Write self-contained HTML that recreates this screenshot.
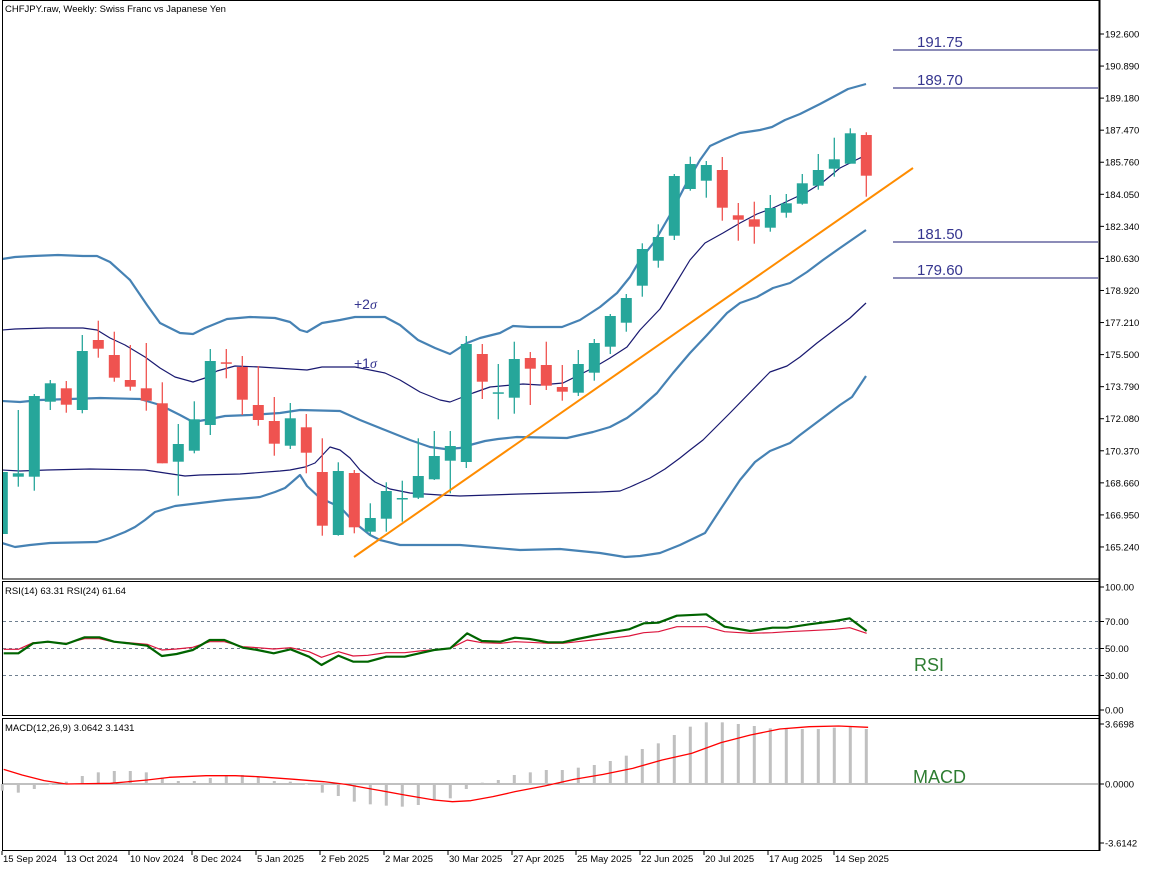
<!DOCTYPE html>
<html><head><meta charset="utf-8"><style>
html,body{margin:0;padding:0;background:#fff;}
svg{display:block;font-family:"Liberation Sans",sans-serif;}
</style></head><body>
<svg id="s" width="1152" height="870" xmlns="http://www.w3.org/2000/svg">
<rect width="1152" height="870" fill="#fff"/>
<g id="g"></g>
</svg>
<script>
const g=document.getElementById('g');let h='';
const cx=i=>2.3+16*i;
// candles: [open,close,high,low] in pixel y; color by open>close (pixel) => green
const C=[[534,472,469,536],[476.7,473.3,410,486.7],[476.7,396,394,490.7],[401.7,383.3,380,410],[388.3,404.7,381,412.7],[410,351,335,413.3],[340,348.7,320.7,357.7],[355,377.7,331.7,381.7],[380,386.7,345,390.7],[388.3,400.7,343,410.7],[403.3,463.3,382.3,463.3],[461.7,444,424,495.7],[450.7,419.3,401.3,453.3],[425,361,349,435],[362.3,363.7,349,378.3],[367,399.7,356,415],[405,420,366,425.7],[421,443.7,397,455.7],[445.7,418.3,403,449],[427.3,452.7,414,473.3],[472,525.7,438.3,535.7],[535,471,462.3,535.7],[473,527.3,470,533.3],[531.7,518,503.3,535.7],[518.7,491,482.3,531.7],[499.3,498,480.7,521.7],[497.7,476,438.3,499],[479.3,456,431,480],[460.7,446,431,493.3],[462,344,336,468],[354,381.7,344,399],[393.7,392.3,364,419.3],[397.7,359,341.7,413.7],[358,368.7,352,405],[365,385.7,341.7,390],[387,391.7,365,400.7],[392.7,364,350,396],[372.7,343,339,380.7],[346.7,316,314,354],[322.7,298,294,331.7],[285.7,249,243.3,296.7],[260.7,237,224.3,267.7],[235.7,176,174,240],[189,164,156.7,190.7],[180.7,165,161,197.7],[170,207.7,157,220.7],[215.3,219.7,203,240.7],[219.3,226.7,201.7,243.7],[227.7,208,195,231.7],[212.7,203.3,194,217.7],[203.7,183.3,174,204.7],[185.7,170,154,189.7],[168.7,159.3,137.7,176.7],[163.7,133.3,128.3,163.7],[135,175.7,132.3,196.7]];
const pl=(pts,col,w,extra)=>`<polyline fill="none" stroke="${col}" stroke-width="${w}" stroke-linejoin="round" ${extra||''} points="${pts.map(p=>p.join(',')).join(' ')}"/>`;
h+='<defs><clipPath id="cm"><rect x="3" y="3" width="1096" height="575"/></clipPath></defs><g clip-path="url(#cm)">';
// bands
const up=[[2,259],[15,257],[33,256],[58,255],[83,256],[97,256],[110,262],[130,280],[147,305],[160,323],[180,333],[193,334],[205,328],[227,319],[250,317],[275,318],[290,322],[300,330],[307,332],[322,323],[340,320],[355,317],[385,317],[400,325],[418,340],[435,348],[450,354],[467,343],[480,338],[500,333],[513,326],[530,327],[562,327],[580,320],[600,307],[617,293],[630,277],[640,260],[655,241],[670,215],[685,186],[700,160],[710,146],[725,139],[740,133],[760,130],[772,127],[785,120],[800,114],[820,104],[835,96],[848,89],[866,84]];
const p1=[[2,330],[15,329],[47,328],[83,328],[97,330],[110,338],[125,345],[145,357],[160,368],[175,377],[193,382],[205,378],[217,371],[235,366],[260,367],[307,370],[322,367],[355,367],[385,373],[400,380],[420,392],[440,400],[450,402],[473,393],[490,387],[523,384],[540,385],[563,383],[593,368],[610,358],[627,347],[640,330],[660,309],[673,288],[690,260],[705,243],[723,233],[740,223],[757,214],[773,208],[790,200],[807,192],[823,182],[840,168],[860,158],[866,156]];
const md=[[2,401],[20,402],[40,400],[100,398],[140,399],[160,405],[180,415],[193,422],[205,420],[225,416],[250,415],[280,413],[300,410],[340,411],[360,420],[385,430],[410,440],[430,447],[445,449],[460,448],[470,445],[485,441],[498,439],[517,437],[567,438],[593,432],[610,427],[627,418],[640,408],[657,393],[673,373],[690,353],[707,335],[727,313],[740,303],[757,297],[773,288],[790,283],[807,272],[823,260],[840,248],[866,230]];
const m1=[[2,470],[20,471],[47,470],[90,469],[145,470],[185,476],[200,475],[240,474],[280,471],[290,470],[305,467],[315,463],[330,447],[340,450],[350,458],[360,470],[375,482],[390,489],[410,493],[440,495],[460,496],[520,494],[600,492],[620,491],[630,487],[650,478],[665,469],[680,458],[690,450],[703,440],[730,413],[770,372],[787,366],[800,357],[817,343],[850,318],[866,303]];
const lo=[[2,543],[15,547],[30,545],[50,543],[97,542],[110,538],[125,532],[135,527],[145,520],[155,512],[175,506],[200,503],[225,500],[250,498],[260,497],[275,492],[285,488],[292,482],[300,475],[307,486],[320,498],[340,507],[355,523],[370,535],[380,540],[400,545],[430,545],[460,545],[520,550],[560,549],[600,553],[625,557],[640,556],[660,553],[680,545],[705,533],[720,510],[740,480],[755,462],[770,451],[790,443],[800,435],[820,420],[840,405],[852,397],[866,376]];
h+=pl(up,'#4682b4',2.2)+pl(md,'#4682b4',2.2)+pl(lo,'#4682b4',2.2)+pl(p1,'#191970',1.2)+pl(m1,'#191970',1.2);
// candles
C.forEach((c,i)=>{const x=cx(i);const gr=c[0]>=c[1];const col=gr?'#26a69a':'#ef5350';
const t=Math.min(c[0],c[1]),b=Math.max(c[0],c[1]);
h+=`<line x1="${x}" x2="${x}" y1="${c[2]}" y2="${c[3]}" stroke="${col}" stroke-width="1.3"/>`;
h+=`<rect x="${x-5.5}" y="${t}" width="11" height="${Math.max(b-t,1.5)}" fill="${col}"/>`;});
h+='<line x1="354" y1="557" x2="913" y2="168" stroke="#ff8c00" stroke-width="2"/>';
h+='</g>';
// levels
[[50,'191.75'],[88,'189.70'],[242,'181.50'],[278,'179.60']].forEach(([y,t])=>{h+=`<line x1="893" x2="1098" y1="${y}" y2="${y}" stroke="#191970" stroke-width="1"/><text x="917" y="${y-3}" font-size="15" fill="#35358f">${t}</text>`;});
h+='<text x="354" y="309" font-size="14" fill="#35358f">+2<tspan font-style="italic" font-family="Liberation Serif,serif">σ</tspan></text>';
h+='<text x="354" y="368" font-size="14" fill="#35358f">+1<tspan font-style="italic" font-family="Liberation Serif,serif">σ</tspan></text>';
h+='<text x="5" y="12" font-size="9.5" fill="#000">CHFJPY.raw, Weekly:  Swiss Franc vs  Japanese Yen</text>';
// panels borders
h+='<rect x="2.5" y="0.5" width="1097" height="578.5" fill="none" stroke="#000"/>';
h+='<rect x="2.5" y="581.5" width="1097" height="134" fill="none" stroke="#000"/>';
h+='<rect x="2.5" y="718.5" width="1097" height="132" fill="none" stroke="#000"/>';
h+='<line x1="1099.5" x2="1099.5" y1="0" y2="851" stroke="#000" stroke-width="2"/>';
// price axis
['192.600','190.890','189.180','187.470','185.760','184.050','182.340','180.630','178.920','177.210','175.500','173.790','172.080','170.370','168.660','166.950','165.240'].forEach((t,k)=>{const y=34+k*32.06;h+=`<line x1="1100" x2="1104" y1="${y}" y2="${y}" stroke="#000"/><text x="1105" y="${y+3.5}" font-size="9.5">${t}</text>`;});
// RSI
[[621.5,'70.00'],[648.5,'50.00'],[675.5,'30.00']].forEach(([y,t])=>{h+=`<line x1="3" x2="1099" y1="${y}" y2="${y}" stroke="#708090" stroke-dasharray="3,3"/>`;});
[[587,'100.00'],[621.5,'70.00'],[648.5,'50.00'],[675.5,'30.00'],[710,'0.00']].forEach(([y,t])=>{h+=`<line x1="1100" x2="1104" y1="${y}" y2="${y}" stroke="#000"/><text x="1105" y="${y+3.5}" font-size="9.5">${t}</text>`;});
const zx=x=>x*0.7357, zy=y=>580+y/3;
const r14=[[5,220],[25,220],[45,190],[65,185],[90,192],[115,172],[135,172],[155,185],[175,190],[200,197],[220,228],[240,222],[262,210],[285,180],[305,180],[330,203],[350,210],[372,220],[395,208],[420,230],[437,255],[460,227],[480,245],[500,245],[525,230],[550,230],[570,220],[590,210],[612,205],[635,160],[655,183],[680,185],[700,173],[720,177],[745,187],[765,187],[785,177],[805,168],[830,157],[855,148],[875,130],[895,128],[920,107],[960,103],[985,140],[1020,153],[1050,143],[1070,143],[1100,133],[1135,123],[1155,115],[1178,153]];
const r24=[[5,208],[25,208],[45,188],[65,186],[90,190],[115,176],[135,176],[155,186],[175,188],[200,193],[220,210],[240,207],[262,202],[285,185],[305,185],[330,200],[350,203],[372,207],[395,203],[420,215],[437,232],[460,215],[480,228],[500,226],[525,218],[550,218],[570,213],[590,209],[612,205],[635,180],[655,188],[680,190],[700,185],[720,187],[745,190],[765,190],[785,185],[805,180],[830,175],[855,168],[875,158],[895,155],[920,140],[960,140],[985,155],[1020,160],[1050,158],[1070,155],[1100,152],[1135,148],[1155,143],[1178,160]];
h+=pl(r24.map(p=>[zx(p[0]),zy(p[1])]),'#dc143c',1.2);
h+=pl(r14.map(p=>[zx(p[0]),zy(p[1])]),'#006400',2.2);
h+='<text x="5" y="594" font-size="9.5">RSI(14) 63.31 RSI(24) 61.64</text>';
h+='<text x="914" y="671" font-size="18" fill="#2e7d32">RSI</text>';
// MACD
h+='<line x1="3" x2="1099" y1="784" y2="784" stroke="#808080"/>';
const hz=[632,638,627,612,605,588,577,573,573,577,593,603,603,594,587,585,590,603,605,612,638,648,665,673,677,680,675,660,655,627,608,600,585,577,570,570,563,555,543,527,507,490,465,440,427,427,432,438,445,447,447,447,443,438,447];
hz.forEach((v,i)=>{const y=zy(v);const x=cx(i);h+=`<rect x="${x-1.5}" y="${Math.min(y,784)}" width="3" height="${Math.max(Math.abs(y-784),0.5)}" fill="#c0c0c0"/>`;});
const sg=[[5,568],[30,585],[60,602],[90,612],[150,610],[200,600],[230,592],[280,587],[320,587],[350,590],[400,598],[440,605],[470,613],[500,625],[550,645],[590,660],[615,665],[640,662],[670,650],[700,635],[740,618],[780,598],[820,583],[860,565],[900,540],[940,520],[980,488],[1020,465],[1060,447],[1100,440],[1140,438],[1180,442]];
h+=pl(sg.map(p=>[zx(p[0]),zy(p[1])]),'#ff0000',1.3);
[[724,'3.6698'],[784,'0.0000'],[843,'-3.6142']].forEach(([y,t])=>{h+=`<line x1="1100" x2="1104" y1="${y}" y2="${y}" stroke="#000"/><text x="1105" y="${y+3.5}" font-size="9.5">${t}</text>`;});
h+='<text x="5" y="731" font-size="9.5">MACD(12,26,9) 3.0642 3.1431</text>';
h+='<text x="913" y="783" font-size="18" fill="#2e7d32">MACD</text>';
// dates
[['15 Sep 2024',3],['13 Oct 2024',66],['10 Nov 2024',130],['8 Dec 2024',193],['5 Jan 2025',257],['2 Feb 2025',321],['2 Mar 2025',385],['30 Mar 2025',449],['27 Apr 2025',513],['25 May 2025',577],['22 Jun 2025',641],['20 Jul 2025',705],['17 Aug 2025',769],['14 Sep 2025',835]].forEach(([t,x])=>{h+=`<line x1="${x-1}" x2="${x-1}" y1="851" y2="855" stroke="#000"/><text x="${x}" y="862" font-size="9.5">${t}</text>`;});
g.innerHTML=h;
</script>
</body></html>
